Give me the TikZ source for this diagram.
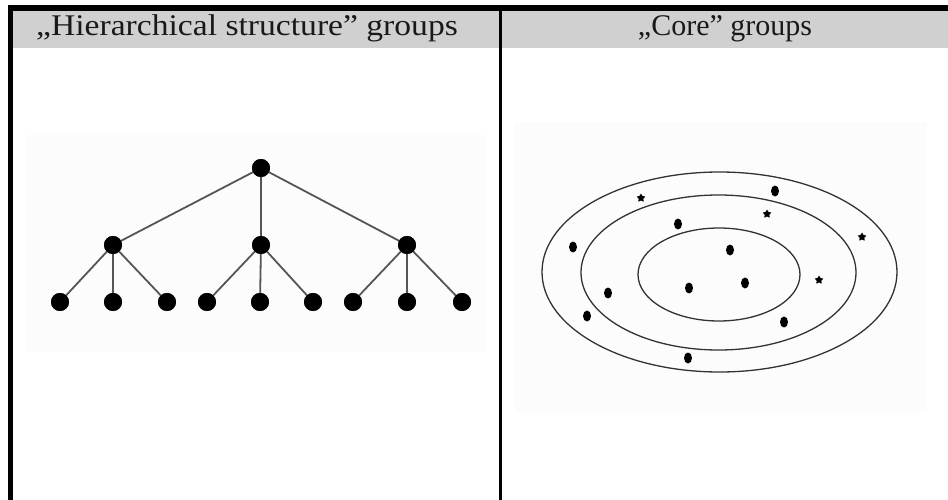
\documentclass[tikz,border=0pt]{standalone}
\usepackage{fontspec}
\setmainfont{Liberation Serif}
\usetikzlibrary{shapes.geometric}
\definecolor{headgray}{HTML}{D0D0D0}
\definecolor{imgbg}{HTML}{FCFCFC}
\definecolor{edgegray}{HTML}{555555}
\begin{document}
\begin{tikzpicture}[x=1pt,y=-1pt,
  tdot/.style={circle,fill=black,inner sep=0pt,minimum size=18pt},
  edot/.style={ellipse,fill=black,inner sep=0pt,minimum width=8pt,minimum height=11pt},
  estar/.style={star,star points=5,star point ratio=1.8,fill=black,inner sep=0pt,minimum size=9pt},
  tedge/.style={draw=edgegray,line width=1.8pt},
  ring/.style={draw=black!80,line width=1.3pt},
  headtxt/.style={font=\fontsize{30}{30}\selectfont,inner sep=0pt,anchor=base,text=black!90}]
\useasboundingbox (0,0) rectangle (948,500);
\fill[white] (0,0) rectangle (948,500);
% header band
\fill[headgray] (13,11) rectangle (948,48);
% image backgrounds
\fill[imgbg] (25,135) rectangle (486,352);
\fill[imgbg] (515,122) rectangle (927,412);
% borders
\fill[black] (8,5) rectangle (948,11);
\fill[black] (8,5) rectangle (13,500);
\fill[black] (499,5) rectangle (502,500);
% header texts
\node[headtxt,xscale=1.12] (h1) at (247,36) {„Hierarchical structure” groups};
\node[headtxt,xscale=1.0] (h2) at (725,36) {„Core” groups};
% tree
\node[tdot] (r) at (261,168) {};
\node[tdot] (a) at (113,245) {};
\node[tdot] (b) at (261,245) {};
\node[tdot] (c) at (407,245) {};
\node[tdot] (a1) at (60,302) {};
\node[tdot] (a2) at (113,302) {};
\node[tdot] (a3) at (167,302) {};
\node[tdot] (b1) at (207,302) {};
\node[tdot] (b2) at (260,302) {};
\node[tdot] (b3) at (313,302) {};
\node[tdot] (c1) at (353,302) {};
\node[tdot] (c2) at (407,302) {};
\node[tdot] (c3) at (462,302) {};
\foreach \u/\v in {r/a,r/b,r/c,a/a1,a/a2,a/a3,b/b1,b/b2,b/b3,c/c1,c/c2,c/c3}
  \draw[tedge] (\u.center) -- (\v.center);
\foreach \n in {r,a,b,c,a1,a2,a3,b1,b2,b3,c1,c2,c3}
  \fill[black] (\n) circle (9);
% core ellipses
\node[ellipse,ring,minimum width=355pt,minimum height=200pt,inner sep=0pt] (e1) at (719.5,272) {};
\node[ellipse,ring,minimum width=275pt,minimum height=155pt,inner sep=0pt] (e2) at (718.5,272.5) {};
\node[ellipse,ring,minimum width=162pt,minimum height=93pt,inner sep=0pt] (e3) at (719,274.5) {};
% dots
\node[edot] (d1) at (775,191) {};
\node[edot] (d2) at (678,224) {};
\node[edot] (d3) at (573,247) {};
\node[edot] (d4) at (730,250) {};
\node[edot] (d5) at (608,293) {};
\node[edot] (d6) at (689,288) {};
\node[edot] (d7) at (745,283) {};
\node[edot] (d8) at (587,316) {};
\node[edot] (d9) at (784,322) {};
\node[edot] (d10) at (688,358) {};
% stars
\node[estar] (s1) at (641,198) {};
\node[estar] (s2) at (767,214) {};
\node[estar] (s3) at (862,237) {};
\node[estar] (s4) at (819,280) {};
\end{tikzpicture}
\end{document}
